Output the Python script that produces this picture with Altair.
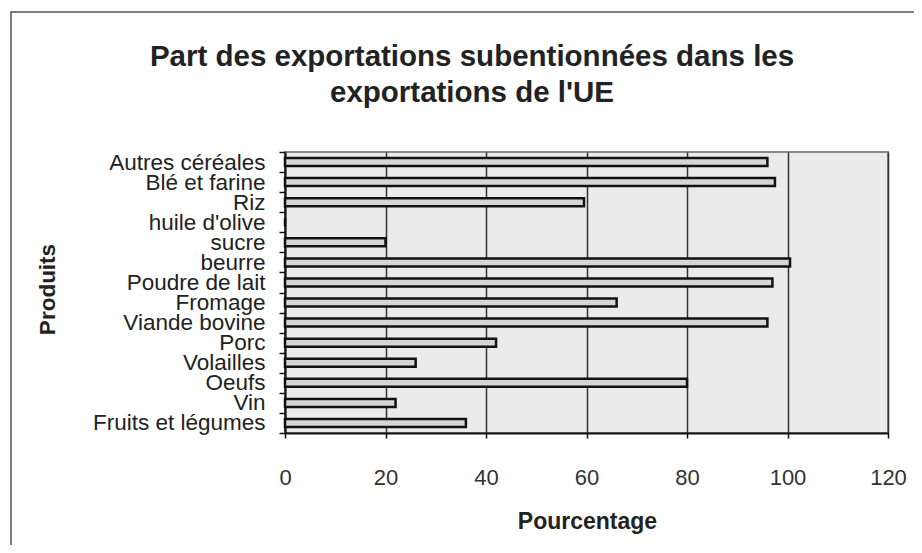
import altair as alt
import pandas as pd

produits = ["Autres céréales", "Blé et farine", "Riz", "huile d'olive", "sucre",
            "beurre", "Poudre de lait", "Fromage", "Viande bovine", "Porc",
            "Volailles", "Oeufs", "Vin", "Fruits et légumes"]
pourcentage = [96, 97.5, 59.5, 0, 20, 100.5, 97, 66, 96, 42, 26, 80, 22, 36]
x_ticks = [0, 20, 40, 60, 80, 100, 120]
titre = ["Part des exportations subentionnées dans les", "exportations de l'UE"]

df = pd.DataFrame({"Produit": produits, "Pourcentage": pourcentage})

FONT = "Liberation Sans"

bars = alt.Chart(df).mark_bar(
    size=8, fill="#d6d6d6", stroke="#111111", strokeWidth=2.5
).encode(
    y=alt.Y("Produit:N", sort=produits,
            scale=alt.Scale(paddingInner=0, paddingOuter=0),
            axis=alt.Axis(title="Produits", tickBand="extent", tickSize=6,
                          tickColor="#111", tickWidth=1.5,
                          domainColor="#111", domainWidth=2,
                          labelFont=FONT, labelFontSize=22.5, labelColor="#222",
                          labelPadding=14, labelLimit=400,
                          titleFont=FONT, titleFontSize=22.5, titleFontWeight="bold",
                          titleColor="#222", titleAngle=270, titleAlign="center",
                          titleBaseline="middle", titleX=-238, titleY=137)),
    x=alt.X("Pourcentage:Q", scale=alt.Scale(domain=[0, 120], nice=False),
            axis=alt.Axis(values=x_ticks, grid=True, gridColor="#333",
                          gridWidth=1.5, tickSize=5, tickColor="#111",
                          tickWidth=1.5, domainColor="#111", domainWidth=2,
                          labelFont=FONT, labelFontSize=22, labelColor="#333",
                          labelPadding=29, labelFlush=False,
                          title="Pourcentage", titleFont=FONT, titleFontSize=23,
                          titleFontWeight="bold", titleColor="#222",
                          titleBaseline="alphabetic", titleX=302, titleY=95)),
)

frame = alt.Chart(pd.DataFrame({"a": [0]})).mark_rect(
    filled=False, stroke="#555", strokeWidth=1.5
).encode(
    x=alt.value(-274), x2=alt.value(700),
    y=alt.value(-140), y2=alt.value(500)
)

title_marks = []
for i, txt in enumerate(titre):
    title_marks.append(
        alt.Chart(pd.DataFrame({"t": [txt]})).mark_text(
            font=FONT, fontSize=29.5, fontWeight="bold", color="#222",
            align="center", baseline="middle"
        ).encode(text="t:N", x=alt.value(187), y=alt.value(-95 + 36 * i))
    )

chart = alt.layer(frame, bars, *title_marks).properties(
    width=603, height=281,
    autosize=alt.AutoSizeParams(type="none"),
    padding={"left": 277, "top": 144, "right": 26, "bottom": 112},
    background="white",
).configure_view(
    fill="#ebebeb", stroke="#8a8a8a", strokeWidth=2
)

chart.save("out.html", embed_options={"renderer": "svg", "actions": False})
